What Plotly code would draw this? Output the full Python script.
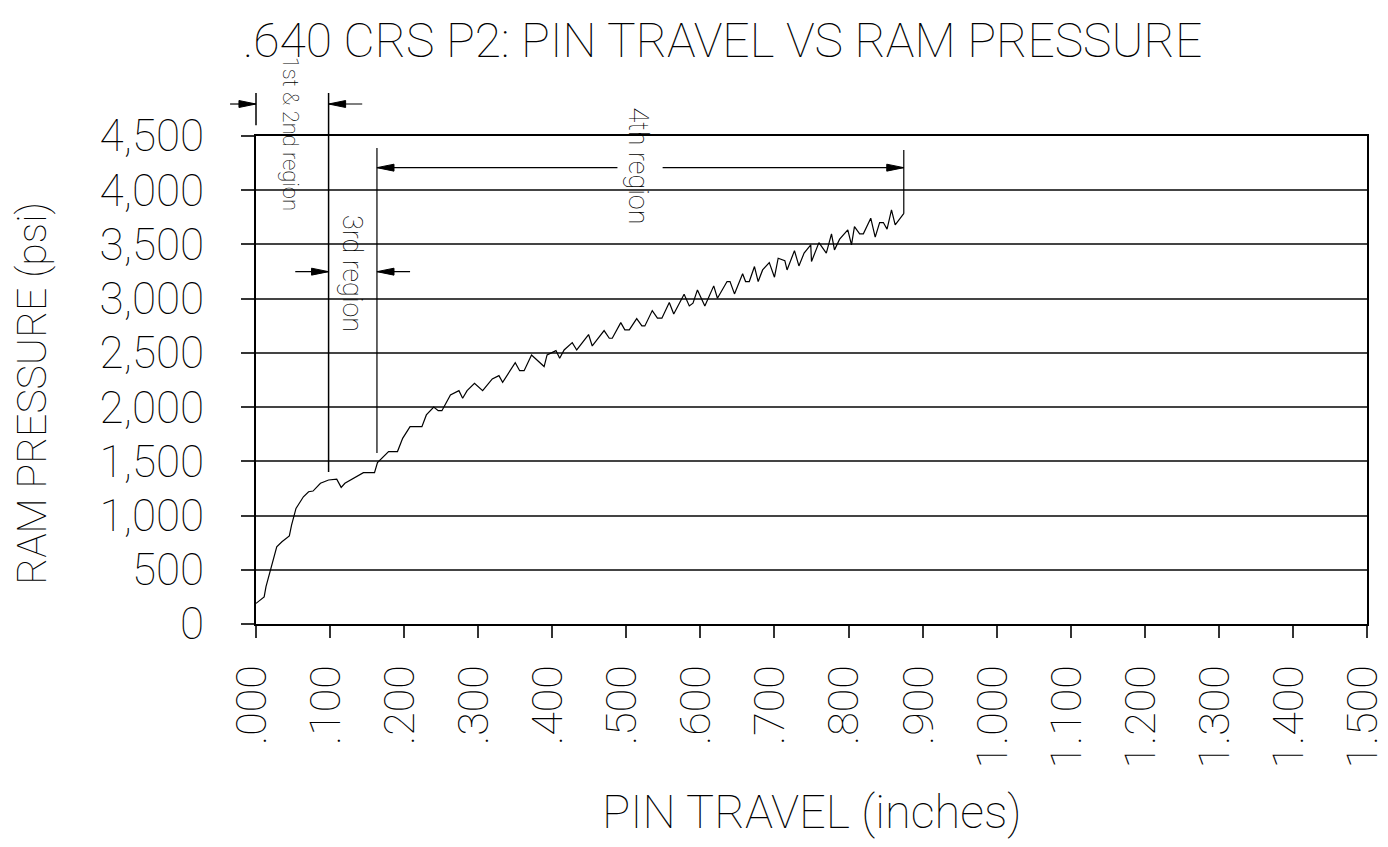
import plotly.graph_objects as go

# ---- data ----
pin_travel = [0.000, 0.011, 0.0135, 0.028, 0.035, 0.045, 0.048, 0.054, 0.064, 0.071,
              0.077, 0.087, 0.098, 0.109, 0.115, 0.120, 0.145, 0.160, 0.164, 0.179,
              0.191, 0.198, 0.208, 0.224, 0.230, 0.240, 0.246, 0.251, 0.2625, 0.274,
              0.279, 0.285, 0.295, 0.306, 0.319, 0.328, 0.333, 0.350, 0.356, 0.362,
              0.372, 0.389, 0.393, 0.405, 0.410, 0.416, 0.427, 0.433, 0.449, 0.454,
              0.470, 0.477, 0.481, 0.4925, 0.498, 0.504, 0.514, 0.521, 0.525, 0.535,
              0.542, 0.548, 0.558, 0.564, 0.578, 0.585, 0.590, 0.596, 0.606, 0.618,
              0.623, 0.636, 0.640, 0.646, 0.657, 0.661, 0.666, 0.673, 0.678, 0.684,
              0.693, 0.700, 0.705, 0.714, 0.717, 0.727, 0.733, 0.740, 0.749, 0.750,
              0.760, 0.770, 0.777, 0.781, 0.788, 0.799, 0.804, 0.808, 0.815, 0.820,
              0.830, 0.836, 0.842, 0.847, 0.852, 0.858, 0.863, 0.875]
ram_pressure = [190, 250, 345, 712, 758, 812, 912, 1066, 1173, 1220,
                1226, 1298, 1328, 1335, 1260, 1298, 1395, 1395, 1488, 1590,
                1590, 1712, 1820, 1820, 1928, 2000, 1967, 1967, 2112, 2152,
                2082, 2152, 2220, 2152, 2260, 2290, 2229, 2410, 2336, 2336,
                2481, 2374, 2481, 2521, 2451, 2527, 2595, 2527, 2669, 2564,
                2706, 2635, 2635, 2779, 2712, 2712, 2816, 2749, 2749, 2890,
                2820, 2820, 2964, 2859, 3041, 2933, 2958, 3081, 2933, 3118,
                3004, 3158, 3158, 3044, 3229, 3158, 3158, 3296, 3158, 3265,
                3333, 3198, 3373, 3351, 3265, 3443, 3302, 3420, 3496, 3342,
                3517, 3420, 3598, 3450, 3549, 3634, 3496, 3665, 3598, 3598,
                3742, 3567, 3702, 3702, 3641, 3819, 3681, 3789]

x_tickvals = [i / 10 for i in range(16)]
x_ticktext = [".000", ".100", ".200", ".300", ".400", ".500", ".600", ".700", ".800",
              ".900", "1.000", "1.100", "1.200", "1.300", "1.400", "1.500"]
y_tickvals = [0, 500, 1000, 1500, 2000, 2500, 3000, 3500, 4000, 4500]
y_ticktext = ["0", "500", "1,000", "1,500", "2,000", "2,500", "3,000", "3,500", "4,000", "4,500"]

# region boundaries (inches)
region_12_end = 0.098
region_3_end = 0.1633
region_4_end = 0.8746
labels = ["1st & 2nd region", "3rd region", "4th region"]

XMAX = 1.5
YMAX = 4500
FONT = "Roboto, Liberation Sans, Arial, sans-serif"
WEIGHT = 100

def px(v):
    return v / XMAX

def py(v):
    return v / YMAX

fig = go.Figure()
fig.add_trace(go.Scatter(x=pin_travel, y=ram_pressure, mode="lines",
                         line=dict(color="black", width=1.2), showlegend=False,
                         hoverinfo="skip"))

shapes = []

def line(x0, y0, x1, y1, w=1.2):
    shapes.append(dict(type="line", xref="paper", yref="paper",
                       x0=px(x0), y0=py(y0), x1=px(x1), y1=py(y1),
                       line=dict(color="black", width=w)))

AL = 0.023   # arrowhead length (inches)
AH = 32      # arrowhead half height (psi)

def arrow(xtip, y, direction):
    xb = xtip - AL * direction
    path = (f"M {px(xtip)},{py(y)} L {px(xb)},{py(y + AH)} "
            f"L {px(xb)},{py(y - AH)} Z")
    shapes.append(dict(type="path", xref="paper", yref="paper", path=path,
                       fillcolor="black", line=dict(color="black", width=1)))

# 1st & 2nd region dimension
y12 = 4795
line(-0.035, y12, 0.0, y12)
arrow(0.0, y12, +1)
line(region_12_end, y12, 0.1434, y12)
arrow(region_12_end, y12, -1)
line(0.0, 4896, 0.0, 4600, w=1.5)
line(region_12_end, 4896, region_12_end, 1402, w=1.5)

# 3rd region dimension
y3 = 3249
line(0.053, y3, region_12_end, y3)
arrow(region_12_end, y3, +1)
line(region_3_end, y3, 0.208, y3)
arrow(region_3_end, y3, -1)
line(region_3_end, 4389, region_3_end, 1577, w=1.2)

# 4th region dimension
y4 = 4208
line(region_3_end, y4, 0.488, y4)
line(0.549, y4, region_4_end, y4)
arrow(region_3_end, y4, -1)
arrow(region_4_end, y4, +1)
line(region_4_end, 4370, region_4_end, 3789, w=1.2)

annotations = [
    dict(text=labels[0], x=px(0.046), y=py(4520), xref="paper", yref="paper",
         showarrow=False, textangle=90,
         font=dict(family=FONT, size=22, color="black", weight=WEIGHT),
         xanchor="center", yanchor="middle"),
    dict(text=labels[1], x=px(0.130), y=py(3235), xref="paper", yref="paper",
         showarrow=False, textangle=90,
         font=dict(family=FONT, size=27, color="black", weight=WEIGHT),
         xanchor="center", yanchor="middle"),
    dict(text=labels[2], x=px(0.5156), y=py(4220), xref="paper", yref="paper",
         showarrow=False, textangle=90,
         font=dict(family=FONT, size=27, color="black", weight=WEIGHT),
         xanchor="center", yanchor="middle"),
    dict(text="PIN TRAVEL (inches)", x=0.5, y=-0.385, xref="paper", yref="paper",
         showarrow=False, font=dict(family=FONT, size=47, color="black", weight=WEIGHT),
         xanchor="center", yanchor="middle"),
    dict(text="RAM PRESSURE (psi)", x=-0.2016, y=0.472, xref="paper", yref="paper",
         showarrow=False, textangle=-90,
         font=dict(family=FONT, size=41, color="black", weight=WEIGHT),
         xanchor="center", yanchor="middle"),
]

fig.update_layout(
    width=1388, height=847,
    margin=dict(l=256, r=21, t=136, b=223),
    paper_bgcolor="white", plot_bgcolor="white",
    title=dict(text=".640 CRS P2: PIN TRAVEL VS RAM PRESSURE",
               x=0.42, xref="paper", xanchor="center",
               y=1 - 40 / 847, yref="container", yanchor="middle",
               font=dict(family=FONT, size=48, color="black", weight=WEIGHT)),
    shapes=shapes,
    annotations=annotations,
    showlegend=False,
)

fig.update_xaxes(range=[0, XMAX], tickvals=x_tickvals, ticktext=x_ticktext,
                 tickangle=-90, ticks="outside", ticklen=12, tickwidth=1.5,
                 tickcolor="#333", showgrid=False, zeroline=False,
                 showline=True, linecolor="black", linewidth=2, mirror=True,
                 tickfont=dict(family=FONT, size=43, color="black", weight=WEIGHT),
                 ticklabelstandoff=10, ticklabelshift=-4,
                 ticklabeloverflow="allow", automargin=False)
fig.update_yaxes(range=[0, YMAX], tickvals=y_tickvals, ticktext=y_ticktext,
                 ticks="outside", ticklen=13, tickwidth=1.5, tickcolor="#333",
                 showgrid=True, gridcolor="#444", gridwidth=1.5, zeroline=False,
                 showline=True, linecolor="black", linewidth=2, mirror=True,
                 tickfont=dict(family=FONT, size=44, color="black", weight=WEIGHT),
                 ticklabelstandoff=28, ticklabeloverflow="allow", automargin=False)

# remove the default page margin so the 1388x847 figure fills the window exactly
fig.write_html("out.html",
               config={"displayModeBar": False},
               post_script="document.body.style.margin='0';"
                           "document.body.style.overflow='hidden';")
